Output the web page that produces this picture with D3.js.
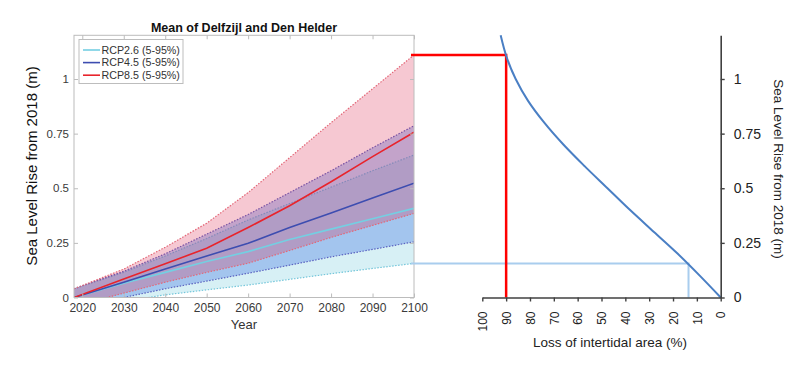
<!DOCTYPE html>
<html>
<head>
<meta charset="utf-8">
<script src="https://cdn.jsdelivr.net/npm/d3@7"></script>
<style>
  html, body { margin: 0; padding: 0; background: #fff; }
  svg { display: block; }
  text { font-family: "Liberation Sans", Arial, sans-serif; }
</style>
</head>
<body>
<svg id="chart" width="800" height="366"></svg>
<script>
// ---------- data ----------
const years = [2018, 2030, 2040, 2050, 2060, 2070, 2080, 2090, 2100];
const rcp26Lo  = [-0.05, -0.017, 0.012, 0.035, 0.057, 0.083, 0.109, 0.133, 0.156];
const rcp26Med = [0, 0.065, 0.115, 0.165, 0.21, 0.265, 0.313, 0.36, 0.408];
const rcp26Hi  = [0.04, 0.115, 0.19, 0.27, 0.355, 0.43, 0.505, 0.58, 0.652];
const rcp45Lo  = [-0.05, 0.0, 0.04, 0.075, 0.111, 0.148, 0.186, 0.22, 0.255];
const rcp45Med = [0, 0.07, 0.13, 0.19, 0.248, 0.32, 0.387, 0.455, 0.523];
const rcp45Hi  = [0.04, 0.12, 0.2, 0.29, 0.38, 0.48, 0.58, 0.685, 0.786];
const rcp85Lo  = [-0.04, 0.02, 0.07, 0.115, 0.157, 0.215, 0.275, 0.33, 0.385];
const rcp85Med = [0, 0.085, 0.155, 0.225, 0.32, 0.42, 0.53, 0.645, 0.756];
const rcp85Hi  = [0.04, 0.13, 0.23, 0.34, 0.48, 0.64, 0.8, 0.955, 1.11];
const seriesNames = ["RCP2.6 (5-95%)", "RCP4.5 (5-95%)", "RCP8.5 (5-95%)"];

const yearTicks = [2020, 2030, 2040, 2050, 2060, 2070, 2080, 2090, 2100];
const slrTicks = [0, 0.25, 0.5, 0.75, 1];
const slrTickLabels = ["0", "0.25", "0.5", "0.75", "1"];

// loss of intertidal area (%) vs sea level rise (m)
const curveSLR  = [0, 0.1, 0.2, 0.3, 0.4, 0.5, 0.6, 0.7, 0.8, 0.9, 1.0, 1.1, 1.2];
const curveLoss = [0, 8.8, 18, 28, 38, 47.5, 57, 66, 74, 80.8, 86, 89.8, 92.3];
const lossTicks = [100, 90, 80, 70, 60, 50, 40, 30, 20, 10, 0];
const refLoss = [90, 13.5];   // read-off losses for RCP8.5 95% and RCP2.6 5% in 2100

// ---------- layout ----------
const svg = d3.select("#chart");
const L = { left: 74, right: 414, top: 35.3, bottom: 297.5 };
const xL = d3.scaleLinear().domain([2018, 2100]).range([L.left, L.right]);
const yS = d3.scaleLinear().domain([0, 1.2]).range([L.bottom, L.top]);
const xR = d3.scaleLinear().domain([0, 100]).range([720.7, 482.3]);

svg.append("defs").append("clipPath").attr("id", "clipL")
  .append("rect").attr("x", L.left).attr("y", L.top)
  .attr("width", L.right - L.left).attr("height", L.bottom - L.top);

const bands = [
  { lo: rcp26Lo, med: rcp26Med, hi: rcp26Hi, fill: "rgb(141,212,226)", op: 0.35, edge: "#74c6da", line: "#74cfe2" },
  { lo: rcp45Lo, med: rcp45Med, hi: rcp45Hi, fill: "rgb(85,132,228)",  op: 0.40, edge: "#5a62c0", line: "#3d4db0" },
  { lo: rcp85Lo, med: rcp85Med, hi: rcp85Hi, fill: "rgb(219,35,75)",   op: 0.25, edge: "#e36878", line: "#e8242c" }
];

const gPlot = svg.append("g").attr("clip-path", "url(#clipL)");
const area = d3.area().x((d, i) => xL(years[i])).y0(d => yS(d[0])).y1(d => yS(d[1]));
const line = d3.line().x((d, i) => xL(years[i])).y(d => yS(d));

bands.forEach(b => {
  const pairs = years.map((y, i) => [b.lo[i], b.hi[i]]);
  gPlot.append("path").attr("d", area(pairs))
    .attr("fill", b.fill).attr("fill-opacity", b.op).attr("stroke", "none");
  [b.lo, b.hi].forEach(arr => {
    gPlot.append("path").attr("d", line(arr))
      .attr("fill", "none").attr("stroke", b.edge).attr("stroke-width", 1.2)
      .attr("stroke-dasharray", "1.5,1.5");
  });
});
bands.forEach(b => {
  gPlot.append("path").attr("d", line(b.med))
    .attr("fill", "none").attr("stroke", b.line).attr("stroke-width", 1.6);
});

// frame and axes of left plot
const gridColor = "#bcbcbc";
svg.append("rect").attr("x", L.left).attr("y", L.top)
  .attr("width", L.right - L.left).attr("height", L.bottom - L.top)
  .attr("fill", "none").attr("stroke", gridColor).attr("stroke-width", 1);

function styleAxis(g, color) {
  g.select(".domain").remove();
  g.selectAll(".tick line").attr("stroke", color);
  g.selectAll(".tick text").attr("fill", "#3a3a3a");
}
const axB = svg.append("g").attr("transform", `translate(0,${L.bottom})`)
  .call(d3.axisBottom(xL).tickValues(yearTicks).tickFormat(d3.format("d")).tickSize(-4).tickPadding(6))
  .style("font-size", "12px");
styleAxis(axB, gridColor);
const axT = svg.append("g").attr("transform", `translate(0,${L.top})`)
  .call(d3.axisTop(xL).tickValues(yearTicks).tickFormat("").tickSize(-4));
styleAxis(axT, gridColor);
const axLft = svg.append("g").attr("transform", `translate(${L.left},0)`)
  .call(d3.axisLeft(yS).tickValues(slrTicks).tickFormat((d, i) => slrTickLabels[i]).tickSize(-4).tickPadding(5))
  .style("font-size", "11.5px");
styleAxis(axLft, gridColor);
const axRt = svg.append("g").attr("transform", `translate(${L.right},0)`)
  .call(d3.axisRight(yS).tickValues(slrTicks).tickFormat("").tickSize(-4));
styleAxis(axRt, gridColor);
svg.selectAll("text").style("font-family", "'Liberation Sans', Arial, sans-serif");

// titles of left plot
svg.append("text").attr("x", 244).attr("y", 31.5).attr("text-anchor", "middle")
  .attr("font-weight", "bold").attr("font-size", "12.5px").attr("fill", "#111")
  .text("Mean of Delfzijl and Den Helder");
svg.append("text").attr("x", 244).attr("y", 329).attr("text-anchor", "middle")
  .attr("font-size", "13px").attr("fill", "#333").text("Year");
svg.append("text").attr("transform", "translate(37,166) rotate(-90)")
  .attr("text-anchor", "middle").attr("font-size", "15px").attr("fill", "#111")
  .text("Sea Level Rise from 2018 (m)");

// legend
const lg = svg.append("g");
lg.append("rect").attr("x", 79).attr("y", 39.5).attr("width", 104).attr("height", 44)
  .attr("fill", "#fff").attr("stroke", "#bdbdbd").attr("stroke-width", 1);
seriesNames.forEach((name, i) => {
  const y = 50 + i * 12.6;
  lg.append("line").attr("x1", 83).attr("x2", 100).attr("y1", y).attr("y2", y)
    .attr("stroke", bands[i].line).attr("stroke-width", 1.6);
  lg.append("text").attr("x", 101.5).attr("y", y).attr("dy", "0.36em")
    .attr("font-size", "10.7px").attr("fill", "#333").text(name);
});

// ---------- right plot ----------
const refSLR = [rcp85Hi[rcp85Hi.length - 1], rcp26Lo[rcp26Lo.length - 1]];
const refColors = ["#ff0000", "#a9cdee"];
const refWidths = [2.5, 2];
[1, 0].forEach(k => {
  const pts = [[L.right - 3, yS(refSLR[k])], [xR(refLoss[k]), yS(refSLR[k])], [xR(refLoss[k]), yS(0)]];
  svg.append("path").attr("d", d3.line()(pts))
    .attr("fill", "none").attr("stroke", refColors[k]).attr("stroke-width", refWidths[k]);
});

const curveLine = d3.line().x((d, i) => xR(curveLoss[i])).y(d => yS(d)).curve(d3.curveCatmullRom);
svg.append("path").attr("d", curveLine(curveSLR))
  .attr("fill", "none").attr("stroke", "#4a7fc4").attr("stroke-width", 2);

const axColor = "#404040";
const rb = svg.append("g").attr("transform", `translate(0,${L.bottom})`)
  .call(d3.axisBottom(xR).tickValues(lossTicks).tickSizeInner(4).tickSizeOuter(0));
rb.select(".domain").attr("stroke", axColor).attr("stroke-width", 1.6);
rb.selectAll(".tick line").attr("stroke", axColor).attr("stroke-width", 1.4);
rb.selectAll(".tick text").attr("transform", "rotate(-90)").attr("x", -14).attr("y", 0)
  .attr("dy", "0.35em").style("text-anchor", "end").attr("fill", "#222")
  .style("font-size", "12px").style("font-family", "'Liberation Sans', Arial, sans-serif");

const ry = svg.append("g").attr("transform", `translate(720.7,0)`)
  .call(d3.axisRight(yS).tickValues(slrTicks).tickFormat((d, i) => slrTickLabels[i]).tickSizeInner(4).tickSizeOuter(0).tickPadding(9));
ry.select(".domain").attr("stroke", axColor).attr("stroke-width", 1.6);
ry.selectAll(".tick line").attr("stroke", axColor).attr("stroke-width", 1.4);
ry.selectAll(".tick text").attr("fill", "#222").style("font-size", "14px")
  .style("font-family", "'Liberation Sans', Arial, sans-serif");

svg.append("text").attr("x", 610).attr("y", 347).attr("text-anchor", "middle")
  .attr("font-size", "13.5px").attr("fill", "#222").text("Loss of intertidal area (%)");
svg.append("text").attr("transform", "translate(774,169) rotate(90)")
  .attr("text-anchor", "middle").attr("font-size", "13.5px").attr("fill", "#222")
  .text("Sea Level Rise from 2018 (m)");
</script>
</body>
</html>
